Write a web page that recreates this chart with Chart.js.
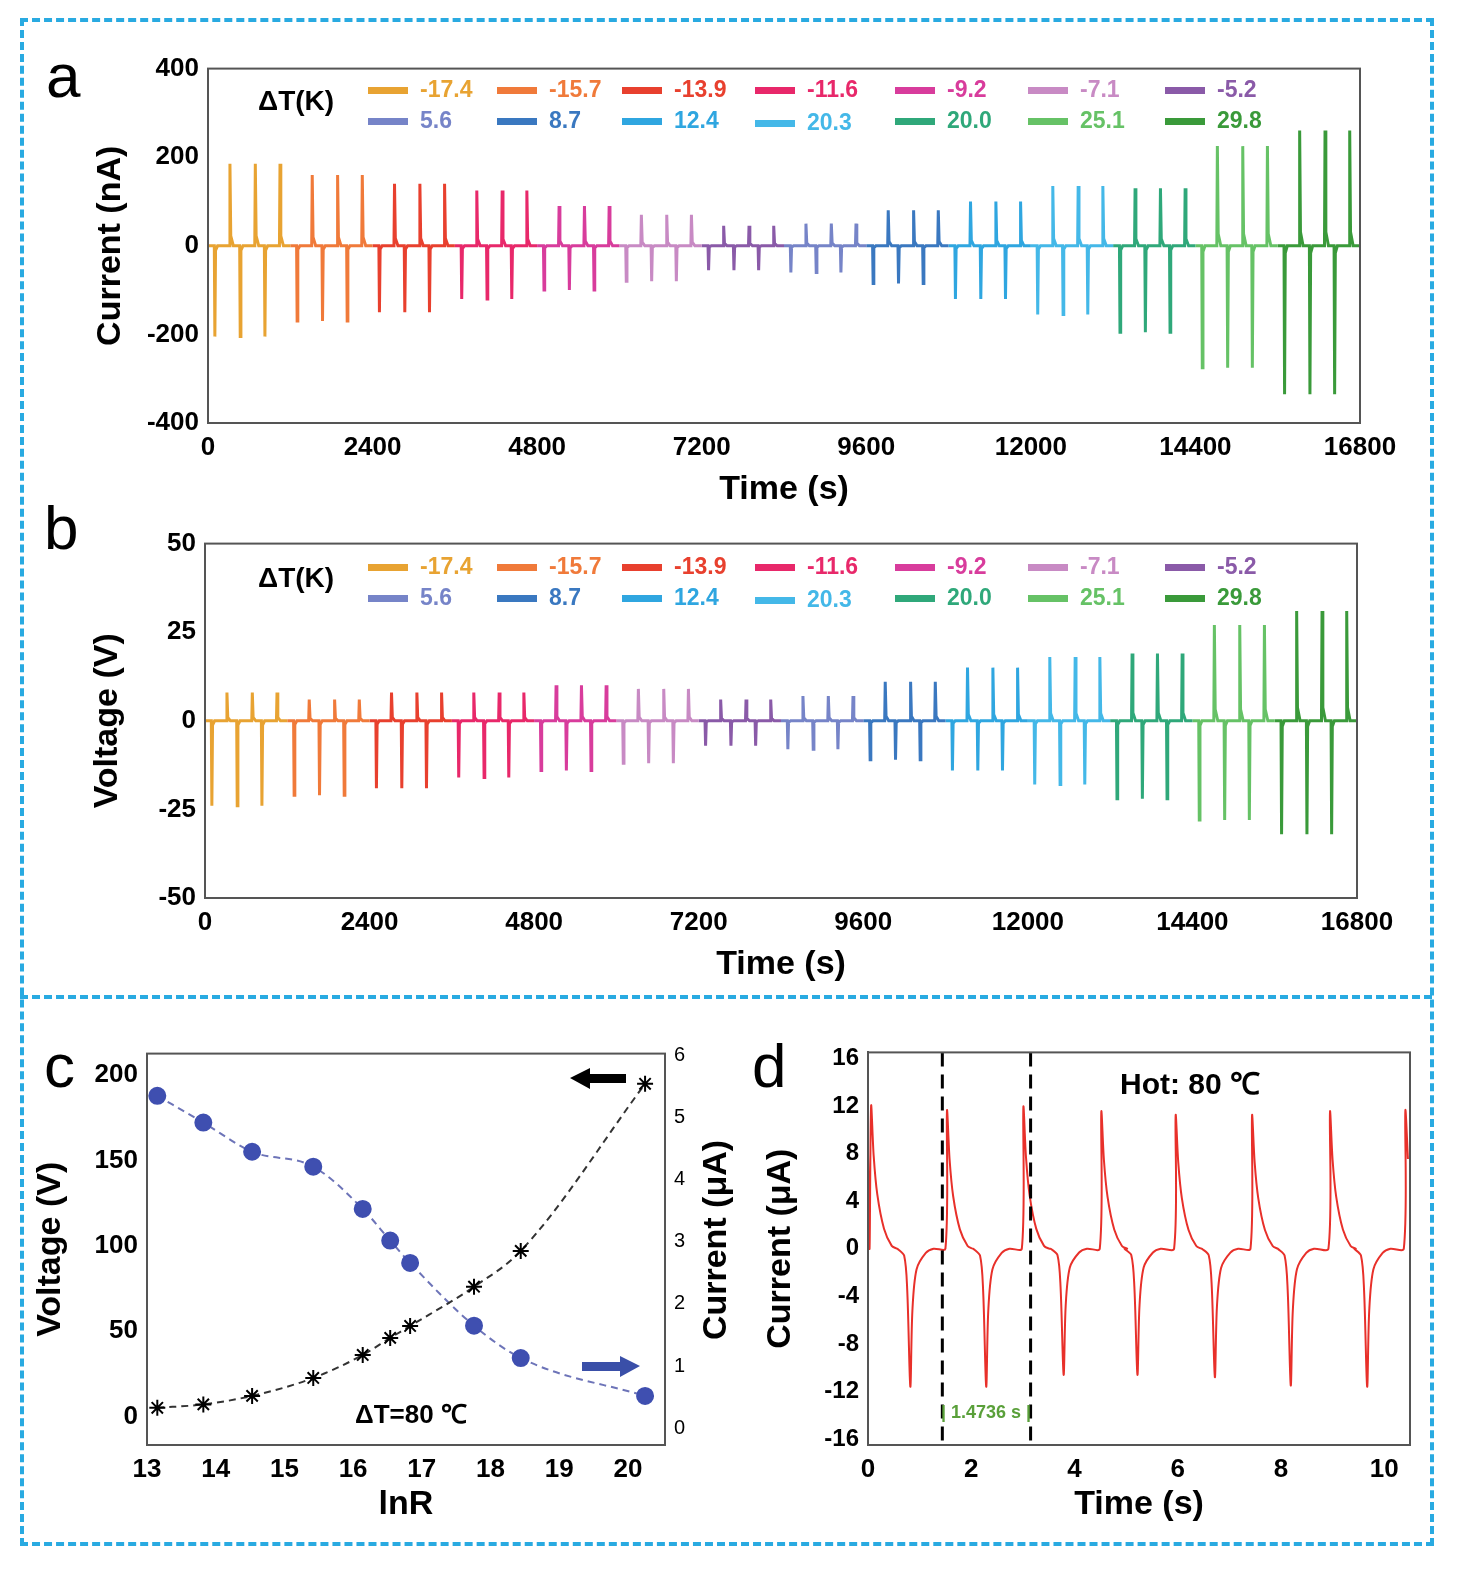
<!DOCTYPE html>
<html><head><meta charset="utf-8">
<script src="https://cdn.jsdelivr.net/npm/chart.js@4"></script>
<style>
body{margin:0;background:#fff;width:1462px;height:1573px;position:relative;font-family:Arial,"Liberation Sans",sans-serif;overflow:hidden}
canvas{position:absolute}
.t{position:absolute;font-weight:bold;white-space:nowrap}
.leg{position:absolute;font-weight:bold;font-size:23px;white-space:nowrap}
.leg i{display:inline-block;width:40px;height:7px;vertical-align:middle;margin-right:12px}
</style></head><body>
<div style="position:absolute;left:20px;top:18px;width:1406px;height:1520px;border:4px dashed #29aae1"></div>
<div style="position:absolute;left:20px;top:995px;width:1412px;border-top:4px dashed #29aae1"></div>
<canvas id="ca" width="1330" height="460" style="left:90px;top:50px"></canvas>
<canvas id="cb" width="1330" height="460" style="left:87px;top:525px"></canvas>
<canvas id="cc" width="720" height="490" style="left:30px;top:1035px"></canvas>
<canvas id="cd" width="700" height="490" style="left:760px;top:1035px"></canvas>
<div class="t" style="left:46px;top:40px;font-size:62px;font-weight:normal">a</div>
<div class="t" style="left:44px;top:492px;font-size:62px;font-weight:normal">b</div>
<div class="t" style="left:44px;top:1030px;font-size:62px;font-weight:normal">c</div>
<div class="t" style="left:752px;top:1030px;font-size:62px;font-weight:normal">d</div>
<div id="legs"></div>
<div class="t" style="left:355px;top:1395px;font-size:26px">ΔT=80 ℃</div>
<div class="t" style="left:1120px;top:1062px;font-size:30px">Hot: 80 ℃</div>
<div class="t" style="left:941px;top:1402px;font-size:18px;color:#5aa03a">| 1.4736 s |</div>
<div class="t" style="left:714px;top:1240px;font-size:34px;transform:translate(-50%,-50%) rotate(-90deg)">Current (μA)</div>
<svg style="position:absolute;left:0;top:0" width="1462" height="1573">
<polygon points="570,1078 590,1068 590,1074 626,1074 626,1083 590,1083 590,1089" fill="#000"/>
<polygon points="640,1366 620,1356 620,1362 582,1362 582,1371 620,1371 620,1377" fill="#3a4fa8"/>
</svg>
<script>
const segLabels=["-17.4","-15.7","-13.9","-11.6","-9.2","-7.1","-5.2","5.6","8.7","12.4","20.3","20.0","25.1","29.8"];
const segColors=["#e8a332","#f07a3a","#e8402e","#e8286a","#d83c9c","#c88ac4","#8a5aa8","#7684c8","#3a78c0","#2fa6e0","#44b8e8","#2fa87a","#66c266","#3a9a3a"];
const currPos=[185,160,140,125,90,70,45,50,80,100,135,130,225,260];
const currNeg=[-205,-170,-150,-120,-100,-80,-55,-60,-85,-120,-155,-195,-275,-335];
const voltPos=[8,6,8,8,10,9,6,7,11,15,18,19,27,31];
const voltNeg=[-24,-21,-19,-16,-14,-12,-7,-8,-11,-14,-18,-22,-28,-32];
const segDur=1200, negOffsets=[100,470,830], posOffsets=[320,690,1050];
const timeTicks=[0,2400,4800,7200,9600,12000,14400,16800];
const lnR=[13.15,13.82,14.53,15.42,16.14,16.54,16.83,17.76,18.44,20.25];
const cVoltage=[5,7,12,22.5,36,46,53,76,97,195];
const cCurrent=[5.35,4.92,4.45,4.21,3.53,3.02,2.66,1.65,1.13,0.52];
const dPosT=[0.06,1.53,3.01,4.52,5.96,7.44,8.95,10.41];
const dPosV=[12,11.6,11.9,11.5,11.2,11.2,11.5,11.6];
const dNegT=[0.82,2.29,3.79,5.22,6.72,8.19,9.67];
const dNegV=[-11.6,-11.6,-10.6,-10.6,-10.8,-11.5,-11.6];
const posShape=[[-0.03,0],[0,1],[0.05,0.65],[0.12,0.38],[0.25,0.14],[0.4,0.02],[0.5,0]];
const negShape=[[-0.25,0],[-0.12,0.05],[-0.06,0.3],[0,1],[0.04,0.45],[0.12,0.15],[0.3,0.03],[0.45,0]];

const legX=[368,497,622,755,895,1028,1165];
let lh='';
[0,477].forEach(dy=>{
  lh+=`<div class="t" style="left:258px;top:${85+dy}px;font-size:28px">ΔT(K)</div>`;
  segLabels.forEach((l,i)=>{const r=i<7?0:1,c=i%7;
    lh+=`<div class="leg" style="left:${legX[c]}px;top:${76+r*31+dy+(c==3&&r==1?2:0)}px;color:${segColors[i]}"><i style="background:${segColors[i]}"></i>${l}</div>`;});
});
document.getElementById('legs').innerHTML=lh;

const frame={id:'frame',afterDraw(c){const a=c.chartArea,x=c.ctx;x.save();x.strokeStyle='#555';x.lineWidth=2;x.strokeRect(a.left,a.top,a.right-a.left,a.bottom-a.top);x.restore();}};
function segData(pos,neg,i){
  const t0=i*segDur, pts=[{x:t0,y:0}];
  for(let k=0;k<3;k++){
    const n=t0+negOffsets[k],p=t0+posOffsets[k];
    pts.push({x:n-8,y:0},{x:n,y:neg[i]},{x:n+10,y:neg[i]*0.05},{x:n+40,y:0});
    pts.push({x:p-8,y:0},{x:p,y:pos[i]},{x:p+12,y:pos[i]*0.12},{x:p+50,y:0});
  }
  pts.push({x:t0+segDur,y:0});return pts;
}
const bf=(s)=>({family:'Arial, Liberation Sans',weight:'bold',size:s});
const plain=v=>String(v);
function timeChart(id,pos,neg,ymin,ymax,ystep,title,ylw){
  new Chart(document.getElementById(id),{type:'line',
    data:{datasets:segLabels.map((l,i)=>({data:segData(pos,neg,i),borderColor:segColors[i],borderWidth:3,pointRadius:0,tension:0}))},
    options:{responsive:false,animation:false,layout:{padding:{top:8,right:60}},plugins:{legend:{display:false},tooltip:{enabled:false}},
      scales:{x:{type:'linear',min:0,max:16800,afterBuildTicks:s=>{s.ticks=timeTicks.map(v=>({value:v}))},grid:{display:false,tickLength:6},border:{color:'#555',width:2},
        ticks:{font:bf(26),color:'#000',callback:plain},title:{display:true,text:'Time (s)',font:bf(34),color:'#000',padding:0},afterFit:s=>{s.height=87}},
        y:{min:ymin,max:ymax,ticks:{stepSize:ystep,font:bf(26),color:'#000'},grid:{display:false,tickLength:6},border:{color:'#555',width:2},
        title:{display:true,text:title,font:bf(34),color:'#000',padding:0},afterFit:s=>{s.width=ylw}}}},plugins:[frame]});
}
timeChart('ca',currPos,currNeg,-400,400,200,'Current (nA)',118);
timeChart('cb',voltPos,voltNeg,-50,50,25,'Voltage (V)',118);

new Chart(document.getElementById('cc'),{type:'line',
  data:{datasets:[
    {data:lnR.map((x,i)=>({x,y:cVoltage[i]})),yAxisID:'y',borderColor:'#333',borderDash:[7,5],borderWidth:2,pointStyle:'star',pointRadius:8,pointBorderColor:'#000',pointBorderWidth:2,cubicInterpolationMode:'monotone'},
    {data:lnR.map((x,i)=>({x,y:cCurrent[i]})),yAxisID:'y1',borderColor:'#6d74b8',borderDash:[7,5],borderWidth:2,pointRadius:8,pointBackgroundColor:'#3f4fb0',pointBorderColor:'#3f4fb0',cubicInterpolationMode:'monotone'}]},
  options:{responsive:false,animation:false,layout:{padding:{top:13}},plugins:{legend:{display:false},tooltip:{enabled:false}},
    scales:{x:{type:'linear',min:13,max:20.54,afterBuildTicks:s=>{s.ticks=[13,14,15,16,17,18,19,20].map(v=>({value:v}))},grid:{display:false,tickLength:6},border:{color:'#555',width:2},ticks:{font:bf(26),color:'#000'},
      title:{display:true,text:'lnR',font:bf(34),color:'#000',padding:0},afterFit:s=>{s.height=80}},
     y:{min:-16.8,max:212.7,afterBuildTicks:s=>{s.ticks=[0,50,100,150,200].map(v=>({value:v}))},grid:{display:false,tickLength:6},border:{color:'#555',width:2},ticks:{font:bf(26),color:'#000'},
      title:{display:true,text:'Voltage (V)',font:bf(34),color:'#000',padding:0},afterFit:s=>{s.width=117}},
     y1:{position:'right',min:-0.27,max:6.03,afterBuildTicks:s=>{s.ticks=[0,1,2,3,4,5,6].map(v=>({value:v}))},grid:{display:false,tickLength:6},border:{color:'#6d74b8',width:2},ticks:{font:{family:'Arial',size:20},color:'#000'},
      afterFit:s=>{s.width=85}}}},plugins:[frame]});

const dPts=[];
dPosT.forEach((p,i)=>{posShape.forEach(([dt,f])=>{const x=p+dt;if(x>=0&&x<=10.5)dPts.push({x,y:dPosV[i]*f})});
  if(i<dNegT.length)negShape.forEach(([dt,f])=>dPts.push({x:dNegT[i]+dt,y:dNegV[i]*f}));});
dPts.unshift({x:0,y:8});
const dashLines={id:'dl',afterDatasetsDraw(c){const x=c.ctx,a=c.chartArea,s=c.scales.x;x.save();x.strokeStyle='#000';x.lineWidth=3;x.setLineDash([14,8]);
  [1.44,3.15].forEach(v=>{const px=s.getPixelForValue(v);x.beginPath();x.moveTo(px,a.top);x.lineTo(px,a.bottom);x.stroke();});x.restore();}};
new Chart(document.getElementById('cd'),{type:'line',
  data:{datasets:[{data:dPts,borderColor:'#e8302a',borderWidth:2,pointRadius:0,tension:0.3}]},
  options:{responsive:false,animation:false,layout:{padding:{top:12,right:50}},plugins:{legend:{display:false},tooltip:{enabled:false}},
    scales:{x:{type:'linear',min:0,max:10.5,afterBuildTicks:s=>{s.ticks=[0,2,4,6,8,10].map(v=>({value:v}))},grid:{display:false,tickLength:6},border:{color:'#555',width:2},ticks:{font:bf(26),color:'#000'},
      title:{display:true,text:'Time (s)',font:bf(34),color:'#000',padding:0},afterFit:s=>{s.height=80}},
     y:{min:-16.5,max:16.5,afterBuildTicks:s=>{s.ticks=[-16,-12,-8,-4,0,4,8,12,16].map(v=>({value:v}))},grid:{display:false,tickLength:6},border:{color:'#555',width:2},ticks:{font:bf(24),color:'#000'},
      title:{display:true,text:'Current (μA)',font:bf(34),color:'#000',padding:0},afterFit:s=>{s.width=108}}}},plugins:[frame,dashLines]});
</script></body></html>
